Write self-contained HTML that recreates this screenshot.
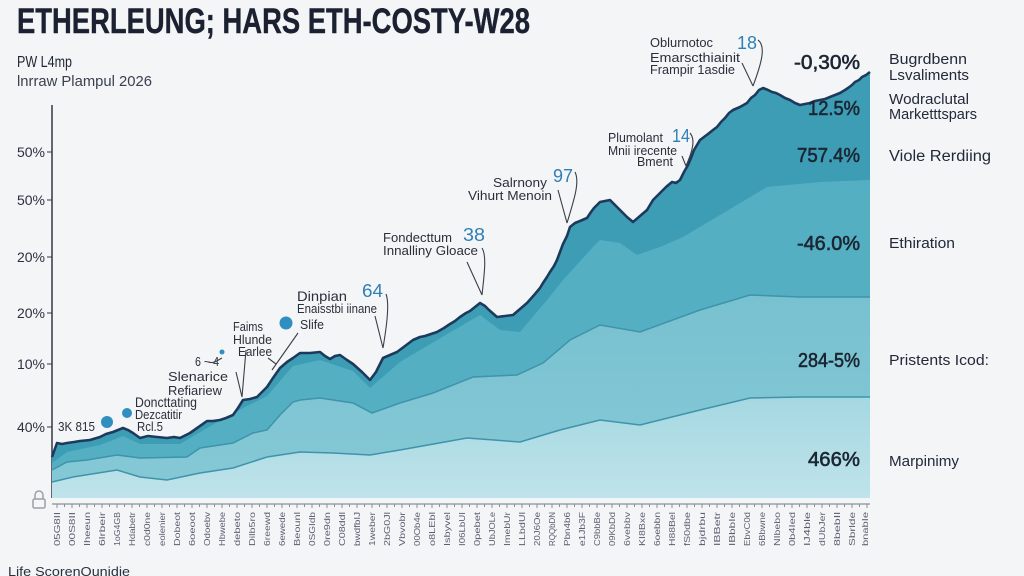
<!DOCTYPE html>
<html><head><meta charset="utf-8"><style>
html,body{margin:0;padding:0;background:#f4f5f7;}
svg{display:block;}
text{font-family:"Liberation Sans",sans-serif;}
</style></head><body>
<svg width="1024" height="576" viewBox="0 0 1024 576" xmlns="http://www.w3.org/2000/svg">
<defs>
<linearGradient id="g4" x1="0" y1="0" x2="0" y2="1"><stop offset="0" stop-color="#a5d8e2"/><stop offset="1" stop-color="#bfe3ea"/></linearGradient>
<linearGradient id="g3" x1="0" y1="0" x2="0" y2="1"><stop offset="0" stop-color="#78c1d0"/><stop offset="1" stop-color="#86c9d6"/></linearGradient>
</defs>
<rect width="1024" height="576" fill="#f4f5f7"/>

<!-- Title -->
<text x="17" y="33" font-size="35" font-weight="bold" fill="#1b2130" stroke="#1b2130" stroke-width="0.4" textLength="513" lengthAdjust="spacingAndGlyphs">ETHERLEUNG; HARS ETH-COSTY-W28</text>
<text x="17" y="67" font-size="16" fill="#1f2533" textLength="55" lengthAdjust="spacingAndGlyphs">PW L4mp</text>
<text x="17" y="86" font-size="15" fill="#3a4050" textLength="135" lengthAdjust="spacingAndGlyphs">lnrraw Plampul 2026</text>

<!-- Y axis -->
<line x1="52" y1="105" x2="52" y2="498" stroke="#333a44" stroke-width="1.5"/>
<g font-size="14" fill="#2a3040" text-anchor="end">
<text x="45" y="157">50%</text>
<text x="45" y="205">50%</text>
<text x="45" y="262">20%</text>
<text x="45" y="318">20%</text>
<text x="45" y="369">10%</text>
<text x="45" y="432">40%</text>
</g>
<g stroke="#333a44" stroke-width="1">
<line x1="47" y1="152" x2="52" y2="152"/><line x1="47" y1="200" x2="52" y2="200"/>
<line x1="47" y1="257" x2="52" y2="257"/><line x1="47" y1="313" x2="52" y2="313"/>
<line x1="47" y1="364" x2="52" y2="364"/><line x1="47" y1="427" x2="52" y2="427"/>
</g>

<!-- Areas -->
<path fill="#3c9db5" d="M52,457 L57,443 67,443 80,441 90,440 100,437 113,432 123,428 133,433 140,438 157,437 167,438 180,438 190,433 200,426 207,421 220,420 233,415 243,400 257,397 267,387 280,368 293,358 300,353 320,352 330,359 340,355 353,364 362,372 370,380 376,372 383,358 397,352 413,340 425,336 437,332 450,324 460,317 470,311 480,303 489,310 497,317 513,315 527,303 535,294 543,283 550,272 557,260 563,244 570,227 580,221 587,218 594,208 600,202 610,200 620,210 633,222 647,210 653,200 660,193 672,182 680,180 688,165 694,150 700,140 708,134 717,127 725,118 733,110 747,103 755,95 763,88 772,92 780,95 790,100 800,105 810,103 820,100 830,97 840,93 848,88 855,82 862,77 870,72 L870,498 L52,498 Z"/>
<path fill="#55afc3" d="M52,463 L67,452 100,445 123,436 140,444 180,444 207,428 243,408 267,396 293,366 320,360 353,371 370,388 400,362 437,340 480,315 500,330 520,332 547,300 563,280 593,247 600,240 620,243 637,255 660,247 683,237 720,215 767,187 820,182 870,180 L870,498 L52,498 Z"/>
<path fill="url(#g3)" d="M52,470 L67,462 87,460 117,455 140,458 187,457 200,448 233,443 253,433 267,430 280,415 293,402 300,400 320,398 353,403 372,413 400,403 433,393 473,377 517,375 543,363 570,340 600,325 640,332 700,310 750,295 800,297 870,297 L870,498 L52,498 Z"/>
<polyline fill="none" stroke="#3f93aa" stroke-width="1.5" points="52,470 67,462 87,460 117,455 140,458 187,457 200,448 233,443 253,433 267,430 280,415 293,402 300,400 320,398 353,403 372,413 400,403 433,393 473,377 517,375 543,363 570,340 600,325 640,332 700,310 750,295 800,297 870,297"/>
<path fill="url(#g4)" d="M52,482 L73,477 117,470 140,477 167,480 200,473 233,468 267,457 300,452 333,453 370,455 400,450 467,438 520,442 560,430 600,420 640,425 700,410 750,398 800,397 870,397 L870,498 L52,498 Z"/>
<polyline fill="none" stroke="#3f93aa" stroke-width="1.5" points="52,482 73,477 117,470 140,477 167,480 200,473 233,468 267,457 300,452 333,453 370,455 400,450 467,438 520,442 560,430 600,420 640,425 700,410 750,398 800,397 870,397"/>
<polyline fill="none" stroke="#1d3a5c" stroke-width="2.6" stroke-linejoin="round" points="52,457 57,443 62,444 67,443 74,442 80,441 90,440 100,437 106,434 113,432 118,430 123,428 128,430 133,433 140,438 148,436 157,437 167,438 174,437 180,438 190,433 200,426 207,421 213,421 220,420 226,418 233,415 238,408 243,400 250,399 257,397 262,392 267,387 273,378 280,368 287,362 293,358 300,353 310,353 320,352 325,356 330,359 335,356 340,355 347,360 353,364 362,372 370,380 376,372 383,358 390,355 397,352 405,346 413,340 420,337 425,336 431,334 437,332 444,328 450,324 455,321 460,317 466,313 470,311 475,307 480,303 485,306 489,310 497,317 505,316 513,315 520,309 527,303 535,294 540,288 543,283 547,277 550,272 554,266 557,260 560,252 563,244 567,236 570,227 575,223 580,221 587,218 591,212 594,208 600,202 605,201 610,200 615,205 620,210 627,217 633,222 640,216 647,210 653,200 660,193 666,187 672,182 676,183 680,180 684,172 688,165 691,158 694,150 697,145 700,140 704,137 708,134 713,130 717,127 721,122 725,118 729,113 733,110 740,107 747,103 751,98 755,95 759,90 763,88 768,90 772,92 776,93 780,95 785,98 790,100 795,103 800,105 805,104 810,103 815,101 820,100 825,99 830,97 835,95 840,93 845,90 848,88 852,85 855,82 859,80 862,77 866,75 870,72"/>

<!-- X axis -->
<line x1="52" y1="504" x2="870" y2="504" stroke="#8a8f98" stroke-width="1.2"/>
<g stroke="#8a8f98" stroke-width="1">
<path d="M57,504v4M64.5,504v3M72,504v4M79.5,504v3M87,504v4M94.5,504v3M102,504v4M109.5,504v3M117,504v4M124.5,504v3M132,504v4M139.5,504v3M147,504v4M154.5,504v3M162,504v4M169.5,504v3M177,504v4M184.5,504v3M192,504v4M199.5,504v3M207,504v4M214.5,504v3M222,504v4M229.5,504v3M237,504v4M244.5,504v3M252,504v4M259.5,504v3M267,504v4M274.5,504v3M282,504v4M289.5,504v3M297,504v4M304.5,504v3M312,504v4M319.5,504v3M327,504v4M334.5,504v3M342,504v4M349.5,504v3M357,504v4M364.5,504v3M372,504v4M379.5,504v3M387,504v4M394.5,504v3M402,504v4M409.5,504v3M417,504v4M424.5,504v3M432,504v4M439.5,504v3M447,504v4M454.5,504v3M462,504v4M469.5,504v3M477,504v4M484.5,504v3M492,504v4M499.5,504v3M507,504v4M514.5,504v3M522,504v4M529.5,504v3M537,504v4M544.5,504v3M552,504v4M559.5,504v3M567,504v4M574.5,504v3M582,504v4M589.5,504v3M597,504v4M604.5,504v3M612,504v4M619.5,504v3M627,504v4M634.5,504v3M642,504v4M649.5,504v3M657,504v4M664.5,504v3M672,504v4M679.5,504v3M687,504v4M694.5,504v3M702,504v4M709.5,504v3M717,504v4M724.5,504v3M732,504v4M739.5,504v3M747,504v4M754.5,504v3M762,504v4M769.5,504v3M777,504v4M784.5,504v3M792,504v4M799.5,504v3M807,504v4M814.5,504v3M822,504v4M829.5,504v3M837,504v4M844.5,504v3M852,504v4M859.5,504v3M867,504v4"/>
</g>
<g font-size="8.5" fill="#5a6070" text-anchor="end">
<text transform="translate(60,512) rotate(-90)" textLength="34" lengthAdjust="spacingAndGlyphs">05G8II</text>
<text transform="translate(75,512) rotate(-90)" textLength="34" lengthAdjust="spacingAndGlyphs">00S8II</text>
<text transform="translate(90,512) rotate(-90)" textLength="34" lengthAdjust="spacingAndGlyphs">Iheeun</text>
<text transform="translate(105,512) rotate(-90)" textLength="34" lengthAdjust="spacingAndGlyphs">6lrbeir</text>
<text transform="translate(120,512) rotate(-90)" textLength="34" lengthAdjust="spacingAndGlyphs">1oG4GB</text>
<text transform="translate(135,512) rotate(-90)" textLength="34" lengthAdjust="spacingAndGlyphs">Hdabetr</text>
<text transform="translate(150,512) rotate(-90)" textLength="34" lengthAdjust="spacingAndGlyphs">c0d0ne</text>
<text transform="translate(165,512) rotate(-90)" textLength="34" lengthAdjust="spacingAndGlyphs">eolenier</text>
<text transform="translate(180,512) rotate(-90)" textLength="34" lengthAdjust="spacingAndGlyphs">Dobeot</text>
<text transform="translate(195,512) rotate(-90)" textLength="34" lengthAdjust="spacingAndGlyphs">6oeoot</text>
<text transform="translate(210,512) rotate(-90)" textLength="34" lengthAdjust="spacingAndGlyphs">Odoebv</text>
<text transform="translate(225,512) rotate(-90)" textLength="34" lengthAdjust="spacingAndGlyphs">Hbwebe</text>
<text transform="translate(240,512) rotate(-90)" textLength="34" lengthAdjust="spacingAndGlyphs">debeto</text>
<text transform="translate(255,512) rotate(-90)" textLength="34" lengthAdjust="spacingAndGlyphs">Dilb5ro</text>
<text transform="translate(270,512) rotate(-90)" textLength="34" lengthAdjust="spacingAndGlyphs">6reewd</text>
<text transform="translate(285,512) rotate(-90)" textLength="34" lengthAdjust="spacingAndGlyphs">6ewede</text>
<text transform="translate(300,512) rotate(-90)" textLength="34" lengthAdjust="spacingAndGlyphs">Beounl</text>
<text transform="translate(315,512) rotate(-90)" textLength="34" lengthAdjust="spacingAndGlyphs">0SGIdb</text>
<text transform="translate(330,512) rotate(-90)" textLength="34" lengthAdjust="spacingAndGlyphs">0re9dn</text>
<text transform="translate(345,512) rotate(-90)" textLength="34" lengthAdjust="spacingAndGlyphs">C08ddl</text>
<text transform="translate(360,512) rotate(-90)" textLength="34" lengthAdjust="spacingAndGlyphs">bwdfbIJ</text>
<text transform="translate(375,512) rotate(-90)" textLength="34" lengthAdjust="spacingAndGlyphs">1weber</text>
<text transform="translate(390,512) rotate(-90)" textLength="34" lengthAdjust="spacingAndGlyphs">2bG0Jl</text>
<text transform="translate(405,512) rotate(-90)" textLength="34" lengthAdjust="spacingAndGlyphs">Vbvobr</text>
<text transform="translate(420,512) rotate(-90)" textLength="34" lengthAdjust="spacingAndGlyphs">00Ob4e</text>
<text transform="translate(435,512) rotate(-90)" textLength="34" lengthAdjust="spacingAndGlyphs">o8LEbl</text>
<text transform="translate(450,512) rotate(-90)" textLength="34" lengthAdjust="spacingAndGlyphs">Isbyvel</text>
<text transform="translate(465,512) rotate(-90)" textLength="34" lengthAdjust="spacingAndGlyphs">I06LbUI</text>
<text transform="translate(480,512) rotate(-90)" textLength="34" lengthAdjust="spacingAndGlyphs">0pebet</text>
<text transform="translate(495,512) rotate(-90)" textLength="34" lengthAdjust="spacingAndGlyphs">UbJOLe</text>
<text transform="translate(510,512) rotate(-90)" textLength="34" lengthAdjust="spacingAndGlyphs">ImebUr</text>
<text transform="translate(525,512) rotate(-90)" textLength="34" lengthAdjust="spacingAndGlyphs">LLbdUl</text>
<text transform="translate(540,512) rotate(-90)" textLength="34" lengthAdjust="spacingAndGlyphs">20J6Oe</text>
<text transform="translate(555,512) rotate(-90)" textLength="34" lengthAdjust="spacingAndGlyphs">RQQbDN</text>
<text transform="translate(570,512) rotate(-90)" textLength="34" lengthAdjust="spacingAndGlyphs">Pbn4b6</text>
<text transform="translate(585,512) rotate(-90)" textLength="34" lengthAdjust="spacingAndGlyphs">e1Jb3F</text>
<text transform="translate(600,512) rotate(-90)" textLength="34" lengthAdjust="spacingAndGlyphs">C9bbBe</text>
<text transform="translate(615,512) rotate(-90)" textLength="34" lengthAdjust="spacingAndGlyphs">09KbDd</text>
<text transform="translate(630,512) rotate(-90)" textLength="34" lengthAdjust="spacingAndGlyphs">6vebbv</text>
<text transform="translate(645,512) rotate(-90)" textLength="34" lengthAdjust="spacingAndGlyphs">KI8Bxe</text>
<text transform="translate(660,512) rotate(-90)" textLength="34" lengthAdjust="spacingAndGlyphs">6oebbn</text>
<text transform="translate(675,512) rotate(-90)" textLength="34" lengthAdjust="spacingAndGlyphs">H88Bel</text>
<text transform="translate(690,512) rotate(-90)" textLength="34" lengthAdjust="spacingAndGlyphs">fS0dbe</text>
<text transform="translate(705,512) rotate(-90)" textLength="34" lengthAdjust="spacingAndGlyphs">bjdrbu</text>
<text transform="translate(720,512) rotate(-90)" textLength="34" lengthAdjust="spacingAndGlyphs">IBBetr</text>
<text transform="translate(735,512) rotate(-90)" textLength="34" lengthAdjust="spacingAndGlyphs">IBbbIe</text>
<text transform="translate(750,512) rotate(-90)" textLength="34" lengthAdjust="spacingAndGlyphs">EbvC0d</text>
<text transform="translate(765,512) rotate(-90)" textLength="34" lengthAdjust="spacingAndGlyphs">6Bbwne</text>
<text transform="translate(780,512) rotate(-90)" textLength="34" lengthAdjust="spacingAndGlyphs">NIbebo</text>
<text transform="translate(795,512) rotate(-90)" textLength="34" lengthAdjust="spacingAndGlyphs">0b4Ied</text>
<text transform="translate(810,512) rotate(-90)" textLength="34" lengthAdjust="spacingAndGlyphs">IJ4ble</text>
<text transform="translate(825,512) rotate(-90)" textLength="34" lengthAdjust="spacingAndGlyphs">dUbJer</text>
<text transform="translate(840,512) rotate(-90)" textLength="34" lengthAdjust="spacingAndGlyphs">8bebIl</text>
<text transform="translate(855,512) rotate(-90)" textLength="34" lengthAdjust="spacingAndGlyphs">Sbrlde</text>
<text transform="translate(868,512) rotate(-90)" textLength="34" lengthAdjust="spacingAndGlyphs">bnabIe</text>
</g>

<!-- lock icon -->
<g fill="none" stroke="#9aa0a8" stroke-width="1.5">
<path d="M35,499v-4a4,4 0 0 1 8,0v4"/>
<rect x="33" y="499" width="12" height="9" rx="1.5"/>
</g>
<text x="8" y="576" font-size="13" fill="#2a3040" textLength="122" lengthAdjust="spacingAndGlyphs">Life ScorenOunidie</text>

<!-- right percent values -->
<g font-size="20" fill="#1c2633" text-anchor="end" stroke="#1c2633" stroke-width="0.6">
<text x="860" y="69" textLength="66" lengthAdjust="spacingAndGlyphs">-0,30%</text>
<text x="860" y="115" textLength="52" lengthAdjust="spacingAndGlyphs">12.5%</text>
<text x="860" y="162" textLength="63" lengthAdjust="spacingAndGlyphs">757.4%</text>
<text x="860" y="250" textLength="63" lengthAdjust="spacingAndGlyphs">-46.0%</text>
<text x="860" y="367" textLength="62" lengthAdjust="spacingAndGlyphs">284-5%</text>
<text x="860" y="466" textLength="52" lengthAdjust="spacingAndGlyphs">466%</text>
</g>

<!-- right labels -->
<g font-size="14.5" fill="#22293a">
<text x="889" y="64" textLength="78" lengthAdjust="spacingAndGlyphs">Bugrdbenn</text>
<text x="889" y="80" textLength="80" lengthAdjust="spacingAndGlyphs">Lsvaliments</text>
<text x="889" y="104" textLength="80" lengthAdjust="spacingAndGlyphs">Wodraclutal</text>
<text x="889" y="119" textLength="88" lengthAdjust="spacingAndGlyphs">Marketttspars</text>
<text x="889" y="161" textLength="102" lengthAdjust="spacingAndGlyphs" font-size="15.5">Viole Rerdiing</text>
<text x="889" y="248" textLength="66" lengthAdjust="spacingAndGlyphs">Ethiration</text>
<text x="889" y="365" textLength="100" lengthAdjust="spacingAndGlyphs">Pristents Icod:</text>
<text x="889" y="466" textLength="70" lengthAdjust="spacingAndGlyphs">Marpinimy</text>
</g>

<!-- annotations -->
<g font-size="12.5" fill="#2a2f3a">
<text x="650" y="47" textLength="63" lengthAdjust="spacingAndGlyphs">Oblurnotoc</text>
<text x="650" y="62" textLength="90" lengthAdjust="spacingAndGlyphs">Emarscthiainit</text>
<text x="650" y="74" textLength="85" lengthAdjust="spacingAndGlyphs">Frampir 1asdie</text>
<text x="608" y="142" textLength="55" lengthAdjust="spacingAndGlyphs">Plumolant</text>
<text x="608" y="155" textLength="69" lengthAdjust="spacingAndGlyphs">Mnii irecente</text>
<text x="637" y="166" textLength="36" lengthAdjust="spacingAndGlyphs">Bment</text>
<text x="493" y="187" textLength="54" lengthAdjust="spacingAndGlyphs">Salrnony</text>
<text x="468" y="200" textLength="84" lengthAdjust="spacingAndGlyphs">Vihurt Menoin</text>
<text x="383" y="242" textLength="69" lengthAdjust="spacingAndGlyphs">Fondecttum</text>
<text x="383" y="255" textLength="95" lengthAdjust="spacingAndGlyphs">Innalliny Gloace</text>
<text x="297" y="301" font-size="14" textLength="50" lengthAdjust="spacingAndGlyphs">Dinpian</text>
<text x="297" y="313" textLength="80" lengthAdjust="spacingAndGlyphs">Enaisstbi iinane</text>
<text x="300" y="329" textLength="24" lengthAdjust="spacingAndGlyphs">Slife</text>
<text x="233" y="331" textLength="30" lengthAdjust="spacingAndGlyphs">Faims</text>
<text x="233" y="344" textLength="39" lengthAdjust="spacingAndGlyphs">Hlunde</text>
<text x="238" y="356" textLength="34" lengthAdjust="spacingAndGlyphs">Earlee</text>
<text x="195" y="366" textLength="24" lengthAdjust="spacingAndGlyphs">6 ~ 4</text>
<text x="168" y="381" textLength="60" lengthAdjust="spacingAndGlyphs">Slenarice</text>
<text x="168" y="395" textLength="54" lengthAdjust="spacingAndGlyphs">Refiariew</text>
<text x="135" y="407" font-size="14" textLength="62" lengthAdjust="spacingAndGlyphs">Doncttating</text>
<text x="135" y="419" textLength="47" lengthAdjust="spacingAndGlyphs">Dezcatitir</text>
<text x="137" y="431" textLength="26" lengthAdjust="spacingAndGlyphs">Rcl.5</text>
<text x="58" y="431" textLength="37" lengthAdjust="spacingAndGlyphs">3K 815</text>
</g>
<g font-size="18" fill="#2f80b5">
<text x="737" y="49" textLength="20" lengthAdjust="spacingAndGlyphs">18</text>
<text x="672" y="142" textLength="18" lengthAdjust="spacingAndGlyphs">14</text>
<text x="553" y="182" textLength="20" lengthAdjust="spacingAndGlyphs">97</text>
<text x="463" y="241" textLength="22" lengthAdjust="spacingAndGlyphs">38</text>
<text x="362" y="297" textLength="21" lengthAdjust="spacingAndGlyphs">64</text>
</g>
<g fill="#2f8fc0">
<circle cx="286" cy="323" r="6.5"/>
<circle cx="107" cy="422" r="6"/>
<circle cx="127" cy="413" r="5"/>
<circle cx="222" cy="352" r="2.5"/>
</g>
<g fill="none" stroke="#3a3f48" stroke-width="1.1">
<path d="M758,40 C766,46 762,62 753,86 M742,63 L753,86"/>
<path d="M690,133 C696,140 692,152 686,166 M682,156 L686,166"/>
<path d="M575,172 C580,182 574,200 567,223 M558,190 L567,223"/>
<path d="M482,248 C487,256 484,276 482,295 M467,262 L482,295"/>
<path d="M386,294 C390,304 386,330 383,348 M375,316 L383,348"/>
<path d="M298,333 L272,370 M268,358 L276,364"/>
<path d="M246,350 L242,397 M236,372 L242,397"/>
<path d="M208,362 C214,364 218,360 222,358"/>
</g>
</svg>
</body></html>
